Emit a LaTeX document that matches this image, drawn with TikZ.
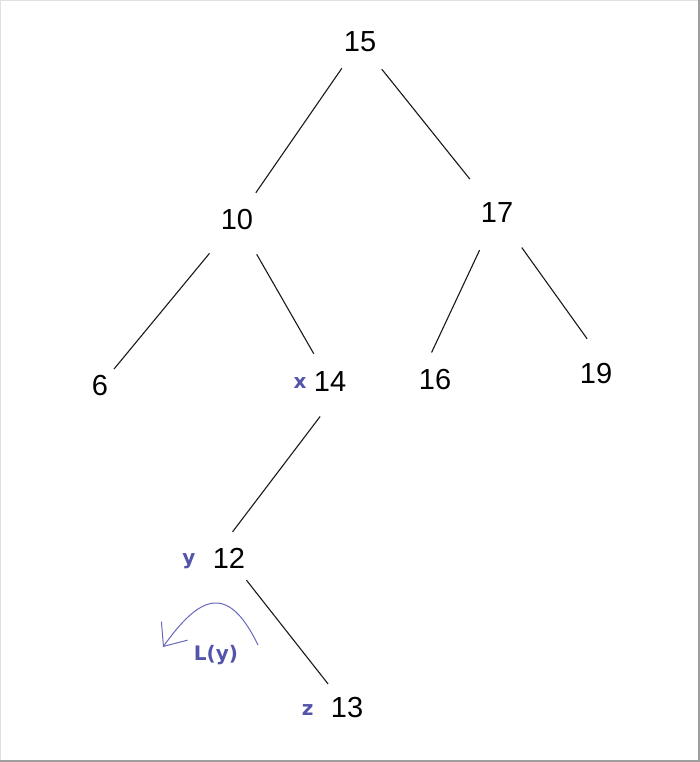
\documentclass[tikz,border=0pt]{standalone}
\usepackage{fontspec}
\setmainfont{Liberation Sans}
\newfontfamily\lblfont{DejaVu Sans}
\usetikzlibrary{positioning,arrows.meta}
\definecolor{lblblue}{RGB}{84,84,170}
\definecolor{penblue}{RGB}{104,104,188}

\begin{document}
\begin{tikzpicture}[x=1pt,y=-1pt,
   key/.style={inner sep=0pt,font=\fontsize{29}{31}\selectfont},
   lbl/.style={inner sep=0pt,text=lblblue,font=\lblfont\bfseries\fontsize{20}{22}\selectfont},
   branch/.style={line width=1.1pt,black!90},
   pen/.style={line width=1pt,penblue,-{Straight Barb[length=19pt,width=32pt,line width=1pt]}}]
\useasboundingbox (0,0) rectangle (700,762);
\draw[black!12,line width=1pt] (0.5,761) -- (0.5,0.5) -- (699,0.5);
\draw[black!38,line width=2pt] (699,0) -- (699,761) -- (0,761);

\node (n15) [key] at (360,42) {15};
\node (n10) [key] at (237,220) {10};
\node (n17) [key] at (497,213) {17};
\node (n6) [key] at (100,386) {6};
\node (n14) [key] at (330,382) {14};
\node (n16) [key] at (435,380) {16};
\node (n19) [key] at (596,374) {19};
\node (n12) [key] at (229,558) {12};
\node (n13) [key] at (347,708) {13};

\node (lx) [lbl,base left=7pt of n14,yshift=3pt] {x};
\node (ly) [lbl,base left=17pt of n12,yshift=4pt] {y};
\node (lz) [lbl,base left=17pt of n13,yshift=2pt] {z};
\node (Ly) [lbl] at (216,655) {L(y)};

\draw[branch,shorten <=31.9pt,shorten >=33.1pt] (n15.center) -- (n10.center);
\draw[branch,shorten <=34.8pt,shorten >=43.4pt] (n15.center) -- (n17.center);
\draw[branch,shorten <=43.2pt,shorten >=22pt] (n10.center) -- (n6.center);
\draw[branch,shorten <=39.6pt,shorten >=32.6pt] (n10.center) -- (n14.center);
\draw[branch,shorten <=41pt,shorten >=30.4pt] (n17.center) -- (n16.west);
\draw[branch,shorten <=42.5pt,shorten >=43.3pt] (n17.center) -- (n19.east);
\draw[branch,shorten <=43.3pt,shorten >=32.8pt] (n14.east) -- (n12.west);
\draw[branch,shorten <=28.3pt,shorten >=30.6pt] (n12.center) -- (n13.center);

\coordinate (ytail) at (258,645);
\coordinate (ytip) at (163,647);
\draw[pen] (ytail) .. controls (228,583) and (200,595) .. (ytip);
\end{tikzpicture}
\end{document}
